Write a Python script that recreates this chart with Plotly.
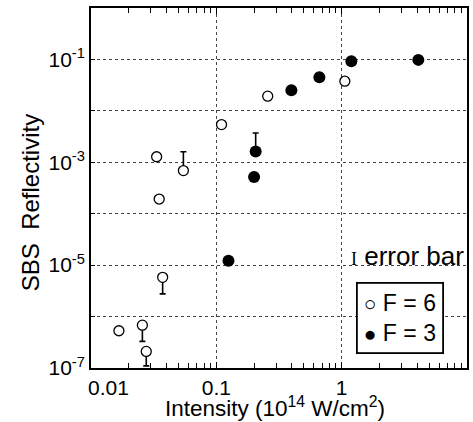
import plotly.graph_objects as go

# ----------------------------------
# DATA
# ----------------------------------

# F = 6 (open circles)
f6_intensity = [0.0167, 0.0257, 0.0276, 0.0373, 0.035, 0.0334, 0.0546, 0.11, 0.257, 1.06]
f6_reflect = [5.3e-7, 6.8e-7, 2.1e-7, 5.8e-6, 1.93e-4, 1.28e-3, 6.9e-4, 5.4e-3, 1.93e-2, 3.77e-2]
# error bar ends (None = no bar on that side)
f6_err_top = [None, None, None, None, None, None, 1.6e-3, None, None, None]
f6_err_bottom = [None, 3.3e-7, 1.1e-7, 2.76e-6, None, None, None, None, None, None]

# F = 3 (filled circles)
f3_intensity = [0.125, 0.2, 0.206, 0.397, 0.664, 1.195, 4.09]
f3_reflect = [1.22e-5, 5.2e-4, 1.62e-3, 2.52e-2, 4.5e-2, 9.23e-2, 9.8e-2]
f3_err_top = [None, None, 3.7e-3, None, None, None, None]
f3_err_bottom = [None, None, None, None, None, None, None]

x_tick_vals = [0.01, 0.1, 1, 10]
x_tick_text = ["\u2007\u2007\u20070.01", "0.1", "1", "10\u2007"]
y_exponents = [-7, -6, -5, -4, -3, -2, -1]


def deltas(vals, ends, upper):
    out = []
    for v, e in zip(vals, ends):
        if e is None:
            out.append(0)
        else:
            out.append(e - v if upper else v - e)
    return out


FONT = "Liberation Sans, Arial, sans-serif"

fig = go.Figure()

fig.add_trace(go.Scatter(
    x=f6_intensity,
    y=f6_reflect,
    mode="markers",
    marker=dict(symbol="circle", size=10, color="white",
                line=dict(color="black", width=1.3)),
    error_y=dict(type="data", symmetric=False,
                 array=deltas(f6_reflect, f6_err_top, True),
                 arrayminus=deltas(f6_reflect, f6_err_bottom, False),
                 color="black", thickness=1.6, width=3),
    showlegend=False
))

fig.add_trace(go.Scatter(
    x=f3_intensity,
    y=f3_reflect,
    mode="markers",
    marker=dict(symbol="circle", size=12, color="black",
                line=dict(color="black", width=0)),
    error_y=dict(type="data", symmetric=False,
                 array=deltas(f3_reflect, f3_err_top, True),
                 arrayminus=deltas(f3_reflect, f3_err_bottom, False),
                 color="black", thickness=1.6, width=3),
    showlegend=False
))

minor_x = [m * 10 ** d for d in (-2, -1, 0) for m in range(2, 10)]

fig.update_xaxes(
    type="log",
    range=[-2, 1],
    automargin=False,
    tickmode="array",
    tickvals=x_tick_vals,
    ticktext=x_tick_text,
    ticks="inside",
    ticklen=6,
    tickwidth=1,
    tickcolor="black",
    minor=dict(tickmode="array", tickvals=minor_x, ticks="inside",
               ticklen=5, tickcolor="black", showgrid=False),
    showline=True,
    linecolor="black",
    linewidth=1.5,
    mirror="ticks",
    showgrid=True,
    gridcolor="#444444",
    griddash="dot",
    gridwidth=1,
    tickfont=dict(family=FONT, size=21, color="black"),
)

fig.update_yaxes(
    type="log",
    range=[-7, 0],
    automargin=False,
    tickmode="array",
    tickvals=[10 ** e for e in y_exponents],
    ticktext=["10<sup>%d</sup>" % e if e % 2 else "" for e in y_exponents],
    ticks="inside",
    ticklen=4,
    tickcolor="black",
    showline=True,
    linecolor="black",
    linewidth=1.8,
    mirror=True,
    showgrid=True,
    gridcolor="#444444",
    griddash="dot",
    gridwidth=1,
    tickfont=dict(family=FONT, size=21, color="black"),
)

# x title
fig.add_annotation(
    text="Intensity (10<sup>14</sup> W/cm<sup>2</sup>)",
    xref="paper", yref="paper",
    x=0.489, y=-0.108,
    xanchor="center", yanchor="middle",
    showarrow=False,
    font=dict(family=FONT, size=22.5, color="black"),
)

# y title
fig.add_annotation(
    text="SBS\u00a0 Reflectivity",
    xref="paper", yref="paper",
    x=-0.162, y=0.458,
    xanchor="center", yanchor="middle",
    textangle=-90,
    showarrow=False,
    font=dict(family=FONT, size=24, color="black"),
)

# error bar key
fig.add_annotation(
    text="<span style='font-family:Liberation Serif;font-size:18px'>I</span> error bar",
    xref="paper", yref="paper",
    x=0.997, y=0.311,
    xanchor="right", yanchor="middle",
    showarrow=False,
    font=dict(family=FONT, size=26, color="black"),
)

# symbol key
fig.add_annotation(
    text="<span style='font-size:21px'>\u25cb</span> F = 6<br><span style='font-size:21px'>\u25cf</span> F = 3",
    xref="paper", yref="paper",
    x=0.823, y=0.140,
    xanchor="center", yanchor="middle",
    align="left",
    showarrow=False,
    bordercolor="black",
    borderwidth=1.8,
    borderpad=6,
    bgcolor="white",
    font=dict(family=FONT, size=23, color="black"),
)

fig.update_layout(
    width=473,
    height=422,
    margin=dict(l=91, r=6, t=8, b=54),
    plot_bgcolor="white",
    paper_bgcolor="white",
)

fig.write_html(
    "out.html",
    config={"displayModeBar": False},
    post_script="document.body.style.margin='0';",
)
